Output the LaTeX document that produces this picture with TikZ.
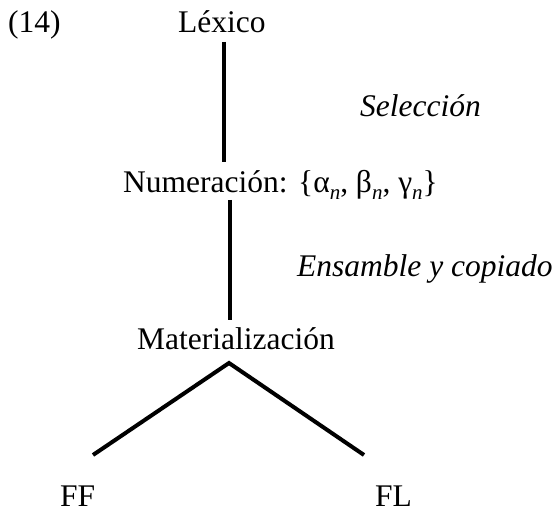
\documentclass[tikz,border=0pt]{standalone}
\usepackage{fontspec}
\setmainfont{Liberation Serif}
\begin{document}
\begin{tikzpicture}[x=1pt,y=-1pt,
  lbl/.style={inner sep=0pt,anchor=base west,font=\fontsize{31.5}{36}\selectfont},
  ital/.style={lbl,font=\fontsize{31.5}{36}\selectfont\itshape},
  edge/.style={line width=4pt,line cap=butt}]
\useasboundingbox[fill=white] (0,0) rectangle (558,513);
\newcommand{\subn}{\raisebox{-0.2em}{\fontsize{21}{21}\selectfont\itshape n}}
\node[lbl] (num14) at (8,33) {(14)};
\node[lbl] (lex) at (178,33) {Léxico};
\node[ital] (sel) at (360,117) {Selección};
\node[lbl] (num) at (123,193) {Numeración: \{α\subn, β\subn, γ\subn\}};
\node[ital] (ens) at (297,277) {Ensamble y copiado};
\node[lbl] (mat) at (137,350) {Materialización};
\node[lbl] (ff) at (60,507) {FF};
\node[lbl] (fl) at (375,507) {FL};
\coordinate (l1a) at (223.5,42);
\coordinate (l1b) at (223.5,162);
\coordinate (l2a) at (230,200);
\coordinate (l2b) at (230,320);
\coordinate (apex) at (229,363);
\coordinate (lend) at (93,455);
\coordinate (rend) at (364,455);
\draw[edge] (l1a) -- (l1b);
\draw[edge] (l2a) -- (l2b);
\draw[edge,line join=miter] (lend) -- (apex) -- (rend);
\end{tikzpicture}
\end{document}
